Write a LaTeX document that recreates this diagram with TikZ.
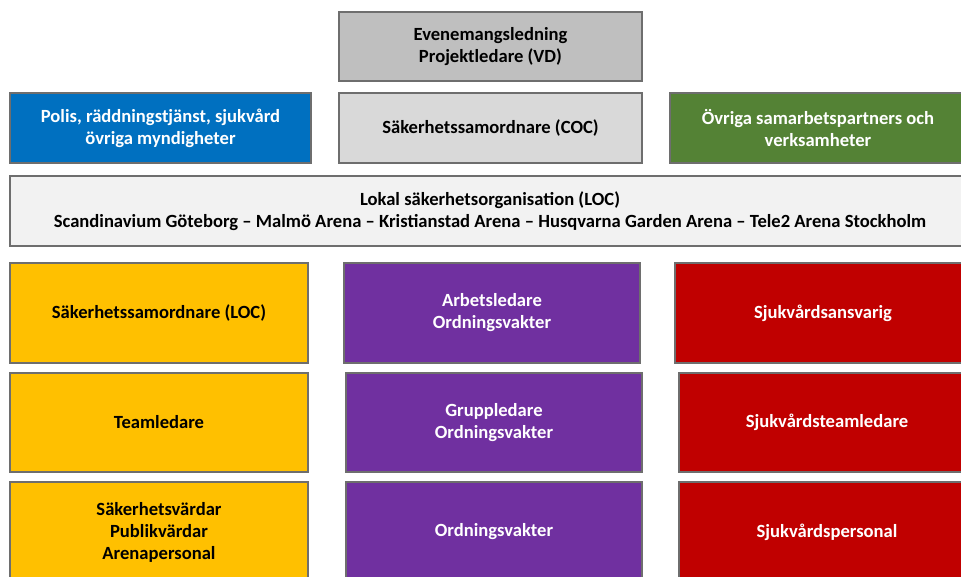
\documentclass[tikz,border=0pt]{standalone}
\usepackage{fontspec}
\setmainfont{Carlito}
\definecolor{gtop}{HTML}{BFBFBF}
\definecolor{gcoc}{HTML}{D9D9D9}
\definecolor{gloc}{HTML}{F2F2F2}
\definecolor{cblue}{HTML}{0070C0}
\definecolor{cgreen}{HTML}{548235}
\definecolor{cyellow}{HTML}{FFC000}
\definecolor{cpurple}{HTML}{7030A0}
\definecolor{cred}{HTML}{C00000}
\definecolor{cborder}{HTML}{6E6E6E}
\begin{document}
\begin{tikzpicture}[x=1pt,y=-1pt,
  box/.style={draw=cborder, line width=1.2pt, rectangle, inner sep=0pt, align=center,
    font=\fontsize{18.6}{22}\selectfont\bfseries},
  light/.style={box, text=black},
  dark/.style={box, text=white}]
\useasboundingbox (0,0) rectangle (961,576);
\clip (0,0) rectangle (961,576);
\node[light, fill=gtop, minimum width=303pt, minimum height=69pt] (vd) at (490.5,46.5) {Evenemangsledning\\Projektledare (VD)};
\node[dark, fill=cblue, minimum width=301pt, minimum height=70pt] (myn) at (160.5,128) {Polis, räddningstjänst, sjukvård\\övriga myndigheter};
\node[light, fill=gcoc, minimum width=303pt, minimum height=70pt] (coc) at (490.5,128) {Säkerhetssamordnare (COC)};
\node[dark, fill=cgreen, minimum width=296pt, minimum height=70pt] (part) at (818,128) {Övriga samarbetspartners och\\verksamheter};
\node[light, fill=gloc, minimum width=960pt, minimum height=70pt] (loc) at (490,211) {Lokal säkerhetsorganisation (LOC)\\Scandinavium Göteborg – Malmö Arena – Kristianstad Arena – Husqvarna Garden Arena – Tele2 Arena Stockholm};
% yellow column
\node[light, fill=cyellow, minimum width=298pt, minimum height=100pt] (y1) at (159,313) {Säkerhetssamordnare (LOC)};
\node[light, fill=cyellow, minimum width=298pt, minimum height=99pt] (y2) at (159,422.5) {Teamledare};
\node[light, fill=cyellow, minimum width=298pt, minimum height=100pt] (y3) at (159,532) {Säkerhetsvärdar\\Publikvärdar\\Arenapersonal};
% purple column
\node[dark, fill=cpurple, minimum width=296pt, minimum height=100pt] (p1) at (492,313) {Arbetsledare\\Ordningsvakter};
\node[dark, fill=cpurple, minimum width=296pt, minimum height=99pt] (p2) at (494,422.5) {Gruppledare\\Ordningsvakter};
\node[dark, fill=cpurple, minimum width=296pt, minimum height=100pt] (p3) at (494,532) {Ordningsvakter};
% red column
\node[dark, fill=cred, minimum width=296pt, minimum height=100pt] (r1) at (823,313) {Sjukvårdsansvarig};
\node[dark, fill=cred, minimum width=296pt, minimum height=99pt] (r2) at (827,422.5) {Sjukvårdsteamledare};
\node[dark, fill=cred, minimum width=296pt, minimum height=100pt] (r3) at (827,532) {Sjukvårdspersonal};
\end{tikzpicture}
\end{document}
